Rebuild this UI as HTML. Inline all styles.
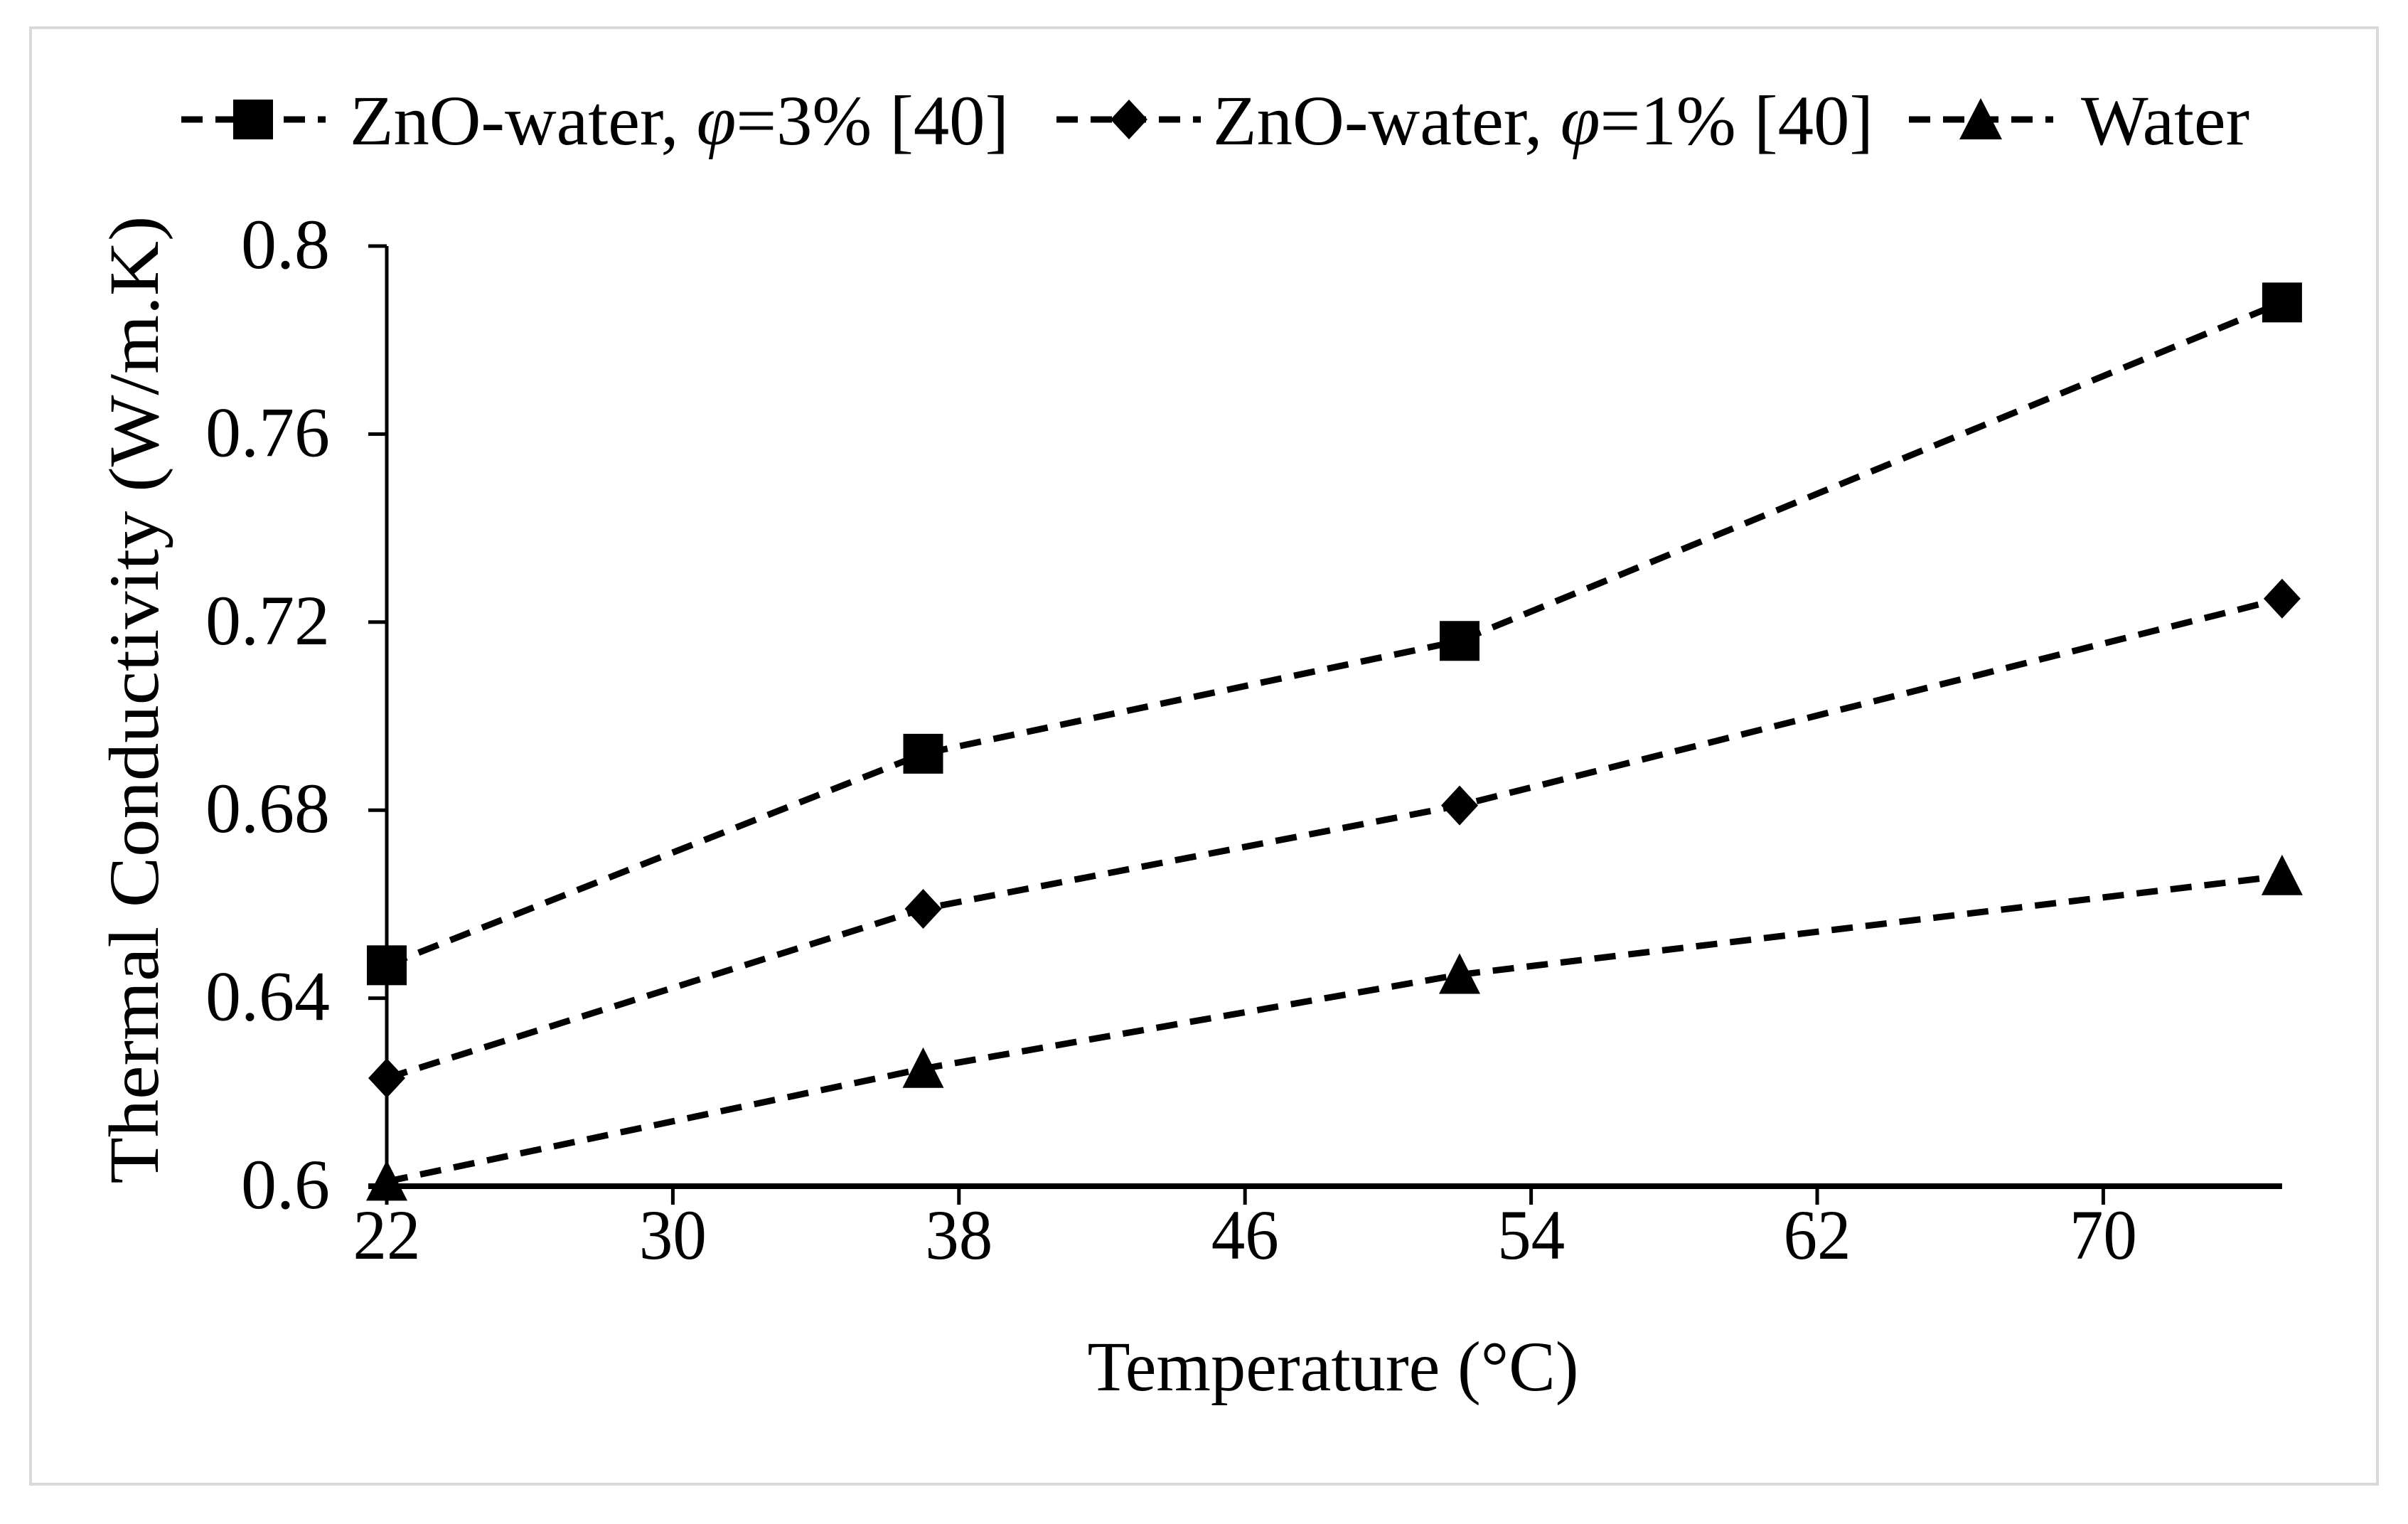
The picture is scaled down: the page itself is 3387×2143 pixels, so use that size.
<!DOCTYPE html>
<html><head><meta charset="utf-8"><style>html,body{margin:0;padding:0;background:#fff}svg{display:block}text{font-family:"Liberation Serif",serif;fill:#000}</style></head>
<body>
<svg id="chart" width="3387" height="2143" viewBox="0 0 3387 2143" xmlns="http://www.w3.org/2000/svg">
<rect x="43" y="39" width="3301" height="2048" fill="#fff" stroke="#d9d9d9" stroke-width="4"/>
<g id="legend">
 <g>
  <line x1="255" y1="168" x2="458" y2="168" stroke="#000" stroke-width="9" stroke-dasharray="30,18"/>
  <rect x="328" y="140" width="56" height="56" fill="#000"/>
  <text x="492" y="203" font-size="100" textLength="927" lengthAdjust="spacingAndGlyphs">ZnO-water, <tspan font-style="italic">φ</tspan>=3% [40]</text>
 </g>
 <g>
  <line x1="1486" y1="168" x2="1689" y2="168" stroke="#000" stroke-width="9" stroke-dasharray="30,18"/>
  <polygon points="1588,140 1614,168 1588,196 1562,168" fill="#000"/>
  <text x="1706" y="203" font-size="100" textLength="929" lengthAdjust="spacingAndGlyphs">ZnO-water, <tspan font-style="italic">φ</tspan>=1% [40]</text>
 </g>
 <g>
  <line x1="2685" y1="168" x2="2888" y2="168" stroke="#000" stroke-width="9" stroke-dasharray="30,18"/>
  <polygon points="2786,138 2816,196 2756,196" fill="#000"/>
  <text x="2927" y="203" font-size="100" textLength="237" lengthAdjust="spacingAndGlyphs">Water</text>
 </g>
</g>
<g id="axes"></g>
<g id="series"></g>
<text x="1875" y="1955" font-size="100" text-anchor="middle" textLength="691" lengthAdjust="spacingAndGlyphs">Temperature (°C)</text>
<text transform="translate(222,984) rotate(-90)" font-size="100" text-anchor="middle" textLength="1361" lengthAdjust="spacingAndGlyphs">Thermal Conductivity (W/m.K)</text>
</svg>
<script>
const categories = [22, 37, 52, 75];
const seriesZnO3 = [0.647, 0.692, 0.716, 0.788];
const seriesZnO1 = [0.623, 0.659, 0.681, 0.725];
const seriesWater = [0.601, 0.625, 0.645, 0.666];
const xTicks = [22, 30, 38, 46, 54, 62, 70];
const yTicks = [0.6, 0.64, 0.68, 0.72, 0.76, 0.8];
const yTickLabels = ["0.6", "0.64", "0.68", "0.72", "0.76", "0.8"];

const NS = "http://www.w3.org/2000/svg";
const X0 = 544, XPX = 50.3, XMIN = 22, XMAX = 75;
const Y0 = 1668, Y1 = 346, YMIN = 0.6, YMAX = 0.8;
function xs(v){ return X0 + (v - XMIN) * XPX; }
function ys(v){ return Y0 - (v - YMIN) / (YMAX - YMIN) * (Y0 - Y1); }
function mk(tag, attrs, parent){ const e = document.createElementNS(NS, tag); for (const k in attrs) e.setAttribute(k, attrs[k]); parent.appendChild(e); return e; }

const axes = document.getElementById('axes');
const yAxis = mk('line', {x1: X0, y1: Y1, x2: X0, y2: Y0, stroke: '#000', 'stroke-width': 5}, axes);


const xAxis = mk('line', {x1: X0 - 26, y1: Y0, x2: xs(XMAX), y2: Y0, stroke: '#000', 'stroke-width': 8}, axes);


yTicks.forEach((t, i) => {
  const y = ys(t);
  const tk = mk('line', {x1: X0 - 26, y1: y, x2: X0, y2: y, stroke: '#000', 'stroke-width': 5}, axes);
  
  
  const lb = mk('text', {x: 464, y: y + 31, 'font-size': 100, 'text-anchor': 'end'}, axes);
  lb.textContent = yTickLabels[i];
  
  
});
xTicks.forEach(t => {
  const x = xs(t);
  const tk = mk('line', {x1: x, y1: Y0, x2: x, y2: Y0 + 26, stroke: '#000', 'stroke-width': 5}, axes);
  
  
  const lb = mk('text', {x: x, y: 1770, 'font-size': 100, 'text-anchor': 'middle', textLength: 95, lengthAdjust: 'spacingAndGlyphs'}, axes);
  lb.textContent = String(t);
  
  
});

const seriesG = document.getElementById('series');
function drawSeries(vals, shape, name){
  const g = mk('g', {}, seriesG);
  
  
  const pts = categories.map((c, i) => xs(c) + ',' + ys(vals[i])).join(' ');
  const pl = mk('polyline', {points: pts, fill: 'none', stroke: '#000', 'stroke-width': 9, 'stroke-dasharray': '30,18'}, g);
  
  
  categories.forEach((c, i) => {
    const x = xs(c), y = ys(vals[i]);
    let m;
    if (shape === 'square') m = mk('rect', {x: x - 28, y: y - 28, width: 56, height: 56, fill: '#000'}, g);
    else if (shape === 'diamond') m = mk('polygon', {points: `${x},${y-28} ${x+26},${y} ${x},${y+28} ${x-26},${y}`, fill: '#000'}, g);
    else m = mk('polygon', {points: `${x},${y-30} ${x+29},${y+27} ${x-29},${y+27}`, fill: '#000'}, g);
    
    
  });
}
drawSeries(seriesZnO3, 'square', 'series-zno-3pct');
drawSeries(seriesZnO1, 'diamond', 'series-zno-1pct');
drawSeries(seriesWater, 'triangle', 'series-water');
</script>
</body></html>
